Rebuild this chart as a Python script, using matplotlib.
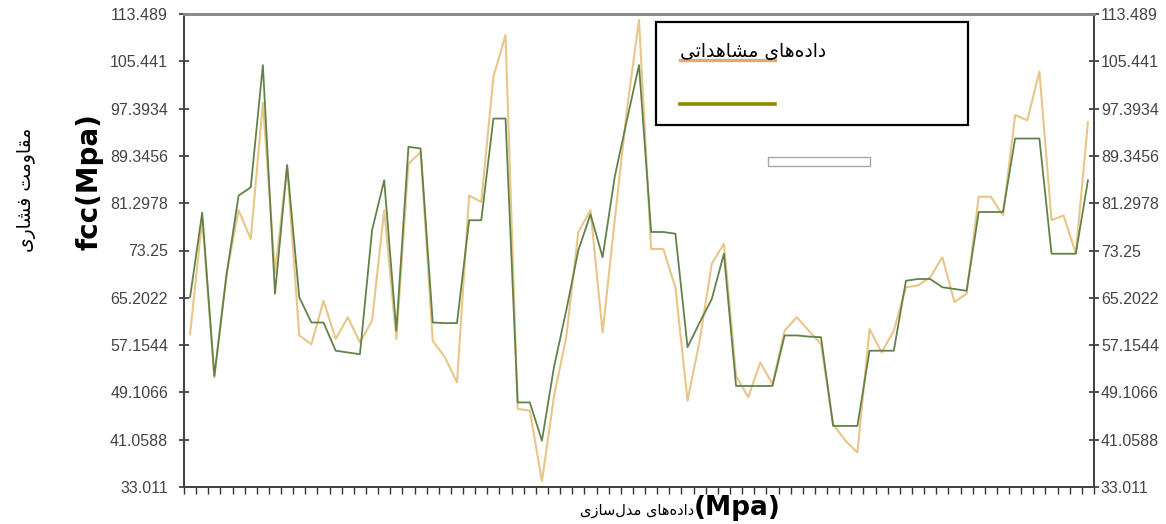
import matplotlib
matplotlib.use("Agg")
import matplotlib.pyplot as plt
from matplotlib.patches import Rectangle
from matplotlib.lines import Line2D
import numpy as np

plt.rcParams['font.family'] = ['Liberation Sans', 'DejaVu Sans']

# observed (mushahedati) compressive strength values, one per sample
observed = [59.0, 78.6, 51.7, 69.2, 80.1, 75.2, 98.4, 69.5, 87.5, 58.8,
            57.3, 64.7, 58.2, 61.9, 57.6, 61.3, 80.1, 58.2, 88.0, 90.0,
            57.9, 55.1, 50.8, 82.6, 81.5, 102.8, 109.9, 46.3, 46.0, 34.0,
            48.5, 58.5, 76.4, 80.1, 59.3, 78.4, 97.1, 112.5, 73.5, 73.5,
            67.0, 47.7, 57.9, 71.0, 74.4, 51.9, 48.3, 54.2, 50.5, 59.6,
            61.9, 59.6, 57.3, 43.7, 40.9, 38.9, 59.9, 55.9, 59.6, 67.0,
            67.3, 68.7, 72.1, 64.5, 65.9, 82.4, 82.4, 79.2, 96.3, 95.4,
            103.7, 78.4, 79.2, 72.7, 95.1]
# modelled values
modelled = [65.3, 79.7, 51.9, 69.0, 82.6, 84.0, 104.8, 65.9, 87.8, 65.3,
            61.0, 61.0, 56.2, 55.9, 55.6, 76.7, 85.2, 59.6, 90.9, 90.6,
            61.0, 60.9, 60.9, 78.4, 78.4, 95.7, 95.7, 47.4, 47.4, 40.9,
            53.5, 63.0, 73.3, 79.4, 72.1, 85.8, 95.4, 104.8, 76.4, 76.4,
            76.1, 56.8, 61.0, 65.0, 72.7, 50.2, 50.2, 50.2, 50.2, 58.8,
            58.8, 58.6, 58.5, 43.4, 43.4, 43.4, 56.2, 56.2, 56.2, 68.1,
            68.4, 68.4, 67.0, 66.7, 66.4, 79.8, 79.8, 79.8, 92.3, 92.3,
            92.3, 72.7, 72.7, 72.7, 85.2]
ytick_vals = [33.011, 41.0588, 49.1066, 57.1544, 65.2022, 73.25,
              81.2978, 89.3456, 97.3934, 105.441, 113.489]
ytick_text = ["33.011", "41.0588", "49.1066", "57.1544", "65.2022", "73.25",
              "81.2978", "89.3456", "97.3934", "105.441", "113.489"]

# persian labels, pre-shaped presentation forms in visual order
ylabel_fa = "\uFEEF\uFEAD\uFE8E\uFEB8\uFED3 \uFE96\uFEE3\uFEED\uFE8E\uFED8\uFEE3"
legend_fa = "\uFEF0\uFE97\uFE8D\uFEAA\uFEEB\uFE8E\uFEB8\uFEE3 \uFEEF\uFE8E\uFEEB\uFEE9\uFEA9\uFE8D\uFEA9"
xlabel_fa = "\uFEEF\uFEAF\uFE8E\uFEB3\uFEDD\uFEAA\uFEE3 \uFEEF\uFE8E\uFEEB\uFEE9\uFEA9\uFE8D\uFEA9"

W, H = 1166, 524
fig = plt.figure(figsize=(W / 100, H / 100), dpi=100)
ax = fig.add_axes([184 / W, 37 / H, 910 / W, 473 / H])

x = np.arange(len(observed))
ax.plot(x, observed, color='#E8C688', lw=1.5, zorder=3)
ax.plot(x, modelled, color='#62824A', lw=1.3, zorder=4)

ax.set_xlim(-0.5, len(observed) - 0.5)
ax.set_ylim(ytick_vals[0], ytick_vals[-1])
ax.set_yticks(ytick_vals)
ax.set_yticklabels(ytick_text)
ax.set_xticks(np.arange(len(observed) + 1) - 0.5)
ax.set_xticklabels([])

ax.tick_params(axis='y', direction='inout', length=7, width=1.2, color='#333333',
               labelsize=11.5, labelcolor='#444444', pad=8)
ax.tick_params(axis='x', direction='out', length=5, width=1, color='#333333')

# right hand copy of the value axis
ax2 = ax.twinx()
ax2.set_ylim(ytick_vals[0], ytick_vals[-1])
ax2.set_yticks(ytick_vals)
ax2.set_yticklabels(ytick_text)
ax2.tick_params(axis='y', direction='inout', length=7, width=1.2, color='#333333',
                labelsize=11.5, labelcolor='#444444', pad=1.5)

for a in [ax, ax2]:
    for side in ['left', 'right', 'bottom']:
        a.spines[side].set_color('#444444')
        a.spines[side].set_linewidth(1.4)
    a.spines['top'].set_color('#8a8a8a')
    a.spines['top'].set_linewidth(2)

# legend box drawn by hand to keep the overlapping look of the original
ax2.add_patch(Rectangle((0.5187, 0.7653), 0.3428, 0.2178, transform=ax.transAxes,
                        facecolor='white', edgecolor='black', lw=1.6, zorder=6))
ax2.add_line(Line2D([0.5451, 0.6495], [0.9027, 0.9027], transform=ax.transAxes,
                    color='#E9A86A', lw=2.4, zorder=7))
ax2.add_line(Line2D([0.5451, 0.6495], [0.8097, 0.8097], transform=ax.transAxes,
                    color='#8C8C00', lw=2.6, zorder=7))
ax2.text(0.7055, 0.9197, legend_fa, transform=ax.transAxes, ha='right', va='center',
         fontsize=13.5, family='DejaVu Sans', color='black', zorder=8)

# small empty text box under the legend
ax2.add_patch(Rectangle((0.6418, 0.6786), 0.1121, 0.019, transform=ax.transAxes,
                        facecolor='white', edgecolor='#a8a8a8', lw=1, zorder=5))

# axis titles
fig.text(90 / W, 1 - 182 / H, "fcc(Mpa)", rotation=90, ha='center', va='center',
         fontsize=20, fontweight='bold', family='DejaVu Sans')
fig.text(26 / W, 1 - 190 / H, ylabel_fa, rotation=90, ha='center', va='center',
         fontsize=13.5, family='DejaVu Sans')
fig.text(694 / W, 1 - 511 / H, xlabel_fa, ha='right', va='center',
         fontsize=10.5, family='DejaVu Sans')
fig.text(694 / W, 1 - 508 / H, "(Mpa)", ha='left', va='center',
         fontsize=19, fontweight='bold', family='DejaVu Sans')

fig.savefig("out.png", dpi=100)
